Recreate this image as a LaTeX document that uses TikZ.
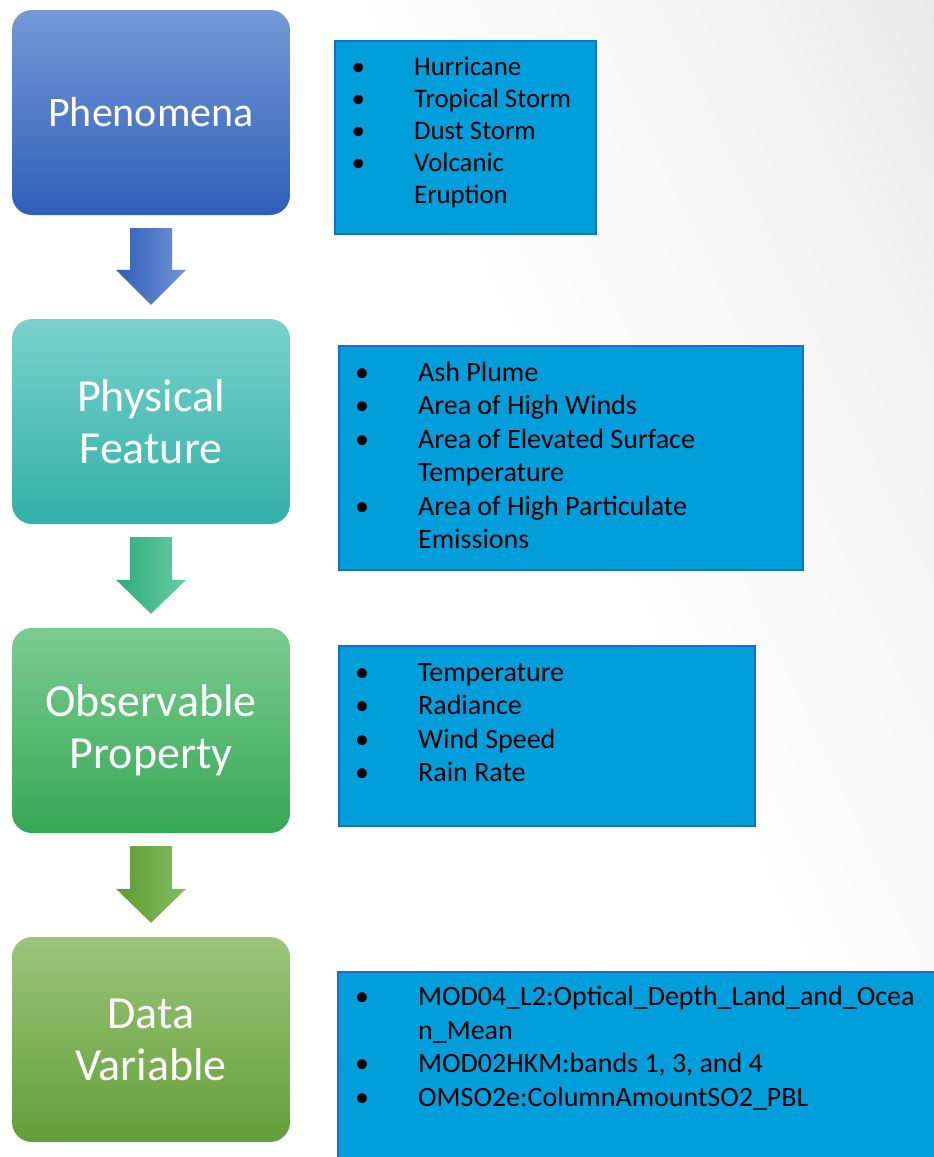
\documentclass[tikz,border=0pt]{standalone}
\usepackage{fontspec}
\setmainfont{Carlito}
\usetikzlibrary{calc}
\definecolor{phentop}{RGB}{116,153,214}
\definecolor{phenbot}{RGB}{47,95,185}
\definecolor{phystop}{RGB}{120,210,203}
\definecolor{physbot}{RGB}{50,176,168}
\definecolor{obstop}{RGB}{123,204,145}
\definecolor{obsbot}{RGB}{54,168,85}
\definecolor{datatop}{RGB}{155,197,122}
\definecolor{databot}{RGB}{99,159,56}
\definecolor{arrowblue}{RGB}{47,94,184}
\definecolor{arrowbluelight}{RGB}{112,148,215}
\definecolor{arrowteal}{RGB}{48,172,122}
\definecolor{arrowteallight}{RGB}{100,205,164}
\definecolor{arrowgreen}{RGB}{92,156,52}
\definecolor{arrowgreenlight}{RGB}{132,190,96}
\definecolor{listfill}{RGB}{0,158,218}
\definecolor{listedge}{RGB}{25,110,205}
\definecolor{bglight}{RGB}{243,243,243}
\definecolor{bggray}{RGB}{218,218,218}
\definecolor{bgdark}{RGB}{212,212,212}
\pgfdeclarehorizontalshading{bgshade}{100bp}{color(0bp)=(white); color(55bp)=(white); color(75bp)=(bglight); color(95bp)=(bggray); color(100bp)=(bgdark)}
\newcommand{\listbullet}{\llap{\makebox[112pt]{\textbullet}}}

\begin{document}
\begin{tikzpicture}[x=1pt, y=-1pt,
    stagebox/.style={rounded corners=20, minimum width=278, minimum height=205,
        text=white, align=center, inner sep=0, font=\fontsize{46}{52}\selectfont},
    listbox/.style={draw=listedge, line width=1.8, fill=listfill, anchor=north west, inner sep=0},
    listtext/.style={anchor=base west, align=left, inner sep=0, font=\fontsize{28}{33.5}\selectfont}]
    \clip (0,0) rectangle (934,1157);
    % Fond
    \shade[shading=bgshade, shading angle=25] (0,0) rectangle (934,1157);

    % === Colonne de gauche ===
    \node[stagebox, top color=phentop, bottom color=phenbot, font=\fontsize{42}{50}\selectfont] (phen) at (151,112.5) {Phenomena};
    \node[stagebox, top color=phystop, bottom color=physbot] (phys) at (151,421.5) {Physical\\Feature};
    \node[stagebox, top color=obstop, bottom color=obsbot] (obs) at (151,730.5) {Observable\\Property};
    \node[stagebox, top color=datatop, bottom color=databot] (data) at (151,1039.5) {Data\\Variable};

    % Flèches
    \shade[left color=arrowblue, right color=arrowbluelight]
        ($(phen.south)+(-21,13)$) -- ($(phen.south)+(21,13)$) -- ($(phys.north)+(21,-49)$)
        -- ($(phys.north)+(35,-49)$) -- ($(phys.north)+(0,-14)$) -- ($(phys.north)+(-35,-49)$)
        -- ($(phys.north)+(-21,-49)$) -- cycle;
    \shade[left color=arrowteal, right color=arrowteallight]
        ($(phys.south)+(-21,13)$) -- ($(phys.south)+(21,13)$) -- ($(obs.north)+(21,-48)$)
        -- ($(obs.north)+(35,-48)$) -- ($(obs.north)+(0,-14)$) -- ($(obs.north)+(-35,-48)$)
        -- ($(obs.north)+(-21,-48)$) -- cycle;
    \shade[left color=arrowgreen, right color=arrowgreenlight]
        ($(obs.south)+(-21,13)$) -- ($(obs.south)+(21,13)$) -- ($(data.north)+(21,-48)$)
        -- ($(data.north)+(35,-48)$) -- ($(data.north)+(0,-14)$) -- ($(data.north)+(-35,-48)$)
        -- ($(data.north)+(-21,-48)$) -- cycle;

    % === Listes de droite (ancrées sur la dernière ligne) ===
    \node[listbox, minimum width=261, minimum height=193] (phenlist) at (334,40) {};
    \node[listtext, font=\fontsize{26.8}{32}\selectfont] (phentext) at (414,203)
        {\listbullet Hurricane\\ \listbullet Tropical Storm\\ \listbullet Dust Storm\\ \listbullet Volcanic\\ Eruption};

    \node[listbox, minimum width=464, minimum height=224] (physlist) at (338,345) {};
    \node[listtext] (phystext) at (418,548.5)
        {\listbullet Ash Plume\\ \listbullet Area of High Winds\\ \listbullet Area of Elevated Surface\\ Temperature\\
         \listbullet Area of High Particulate\\ Emissions};

    \node[listbox, minimum width=416, minimum height=180] (obslist) at (338,645) {};
    \node[listtext] (obstext) at (418,781.5)
        {\listbullet Temperature\\ \listbullet Radiance\\ \listbullet Wind Speed\\ \listbullet Rain Rate};

    \node[listbox, minimum width=620, minimum height=210] (datalist) at (337,971) {};
    \node[listtext] (datatext) at (418,1106)
        {\listbullet MOD04\_L2:Optical\_Depth\_Land\_and\_Ocea\\ n\_Mean\\ \listbullet MOD02HKM:bands 1, 3, and 4\\
         \listbullet OMSO2e:ColumnAmountSO2\_PBL};
\end{tikzpicture}
\end{document}
